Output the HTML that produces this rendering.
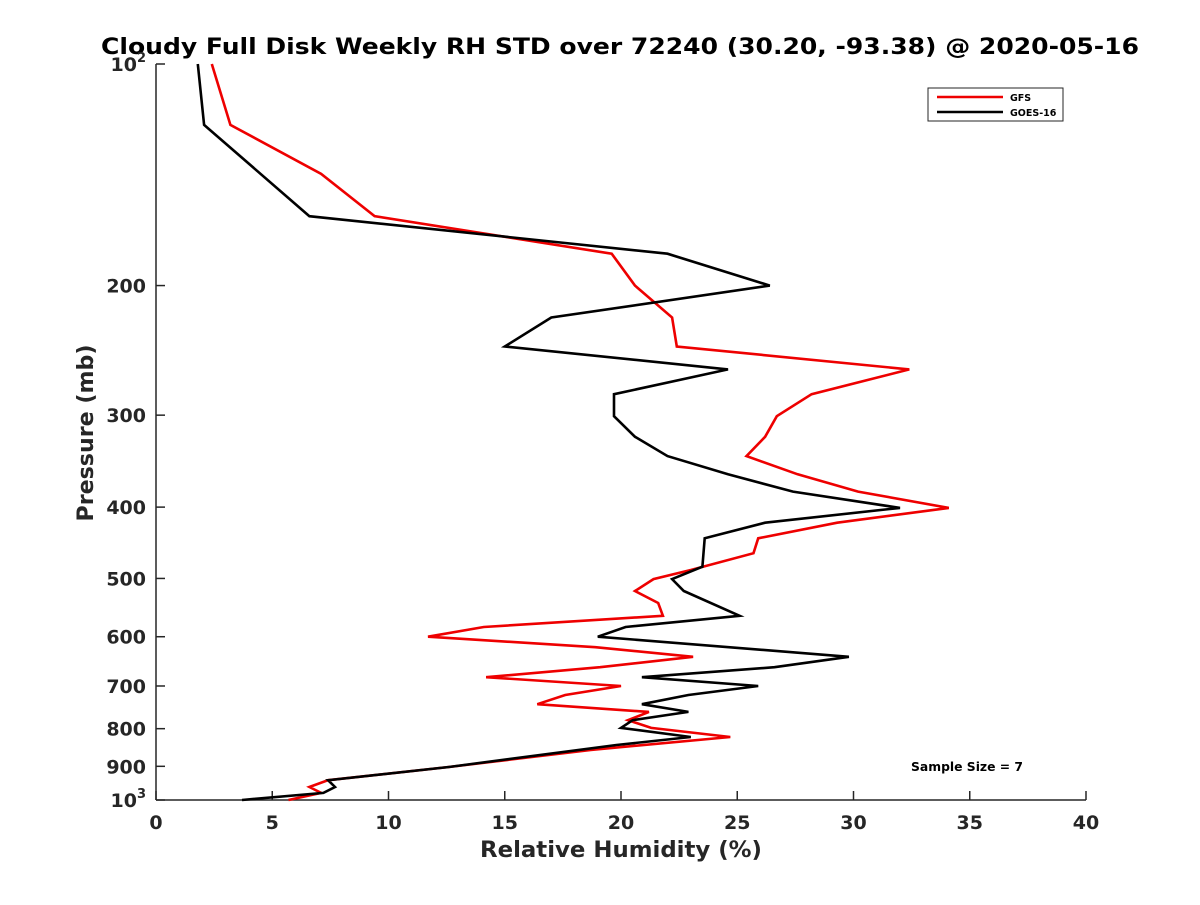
<!DOCTYPE html>
<html><head><meta charset="utf-8"><style>
body{margin:0;background:#fff;}
svg text{font-family:"DejaVu Sans","Liberation Sans",sans-serif;font-weight:bold;fill:#262626;}
</style></head><body>
<svg id="chart" width="1200" height="900" xmlns="http://www.w3.org/2000/svg">
<rect width="1200" height="900" fill="#fff"/>
<text x="620" y="54" text-anchor="middle" font-size="22" textLength="1038" lengthAdjust="spacingAndGlyphs" style="fill:#000">Cloudy Full Disk Weekly RH STD over 72240 (30.20, -93.38) @ 2020-05-16</text>
<g id="axes"></g>
<g id="series"></g>
<text x="621" y="857" text-anchor="middle" font-size="22" textLength="282" lengthAdjust="spacingAndGlyphs">Relative Humidity (%)</text>
<text transform="translate(93,433) rotate(-90)" text-anchor="middle" font-size="22" textLength="177" lengthAdjust="spacingAndGlyphs">Pressure (mb)</text>
<g>
<rect x="928" y="88" width="135" height="33" fill="#fff" stroke="#262626" stroke-width="1"/>
<line x1="937" y1="97" x2="1003" y2="97" stroke="#e00" stroke-width="2.5"/>
<text x="1010" y="101" font-size="9.5" style="fill:#000">GFS</text>
<line x1="937" y1="112" x2="1003" y2="112" stroke="#000" stroke-width="2.5"/>
<text x="1010" y="116" font-size="9.5" style="fill:#000">GOES-16</text>
</g>
<text x="967" y="771" text-anchor="middle" font-size="12" textLength="112" lengthAdjust="spacingAndGlyphs" style="fill:#000">Sample Size = 7</text>
</svg>
<script>
const gfsP = [100,121,141,161,181,200,221,242,260,281,301,321,341,361,381,401,420,441,462,487,501,520,540,562,582,600,620,639,660,681,700,720,741,759,779,798,821,855,902,940,960,978,1000];
const gfsV = [2.4,3.2,7.1,9.4,19.6,20.6,22.2,22.4,32.4,28.2,26.7,26.2,25.4,27.6,30.2,34.1,29.3,25.9,25.7,23.0,21.4,20.6,21.6,21.8,14.1,11.7,18.9,23.1,19.1,14.2,20.0,17.6,16.4,21.2,20.3,21.3,24.7,18.7,12.6,7.4,6.6,7.1,5.7];
const goesP = [100,121,161,181,200,221,242,260,281,301,321,341,361,381,401,420,441,482,501,520,562,582,600,639,660,681,700,720,741,759,779,798,821,842,855,902,940,960,978,1000];
const goesV = [1.8,2.07,6.6,22.0,26.4,17.0,15.0,24.6,19.7,19.7,20.6,22.0,24.6,27.4,32.0,26.2,23.6,23.5,22.2,22.7,25.1,20.2,19.0,29.8,26.6,20.9,25.9,22.9,20.9,22.9,20.5,20.0,23.0,19.8,18.2,12.6,7.4,7.7,7.2,3.7];
const xTicks = [0,5,10,15,20,25,30,35,40];
const yTicks = [100,200,300,400,500,600,700,800,900,1000];
const yTickLabels = ["10|2","200","300","400","500","600","700","800","900","10|3"];

const X0=156,X1=1086,Y0=64,Y1=800;
const xs=v=>X0+(v-0)/(40-0)*(X1-X0);
const ys=p=>Y0+(Math.log10(p)-2)*(Y1-Y0);
const NS="http://www.w3.org/2000/svg";
function mk(tag,attrs,parent){const e=document.createElementNS(NS,tag);for(const k in attrs)e.setAttribute(k,attrs[k]);parent.appendChild(e);return e;}
const ax=document.getElementById('axes');
let l=mk('line',{x1:X0,y1:Y0,x2:X0,y2:Y1,stroke:'#262626','stroke-width':1.5},ax);


l=mk('line',{x1:X0,y1:Y1,x2:X1,y2:Y1,stroke:'#262626','stroke-width':1.5},ax);


xTicks.forEach(v=>{
  const x=xs(v);
  mk('line',{x1:x,y1:Y1,x2:x,y2:Y1-9,stroke:'#262626','stroke-width':1.5},ax);
  const t=mk('text',{x:x,y:829,'text-anchor':'middle','font-size':19},ax);
  t.textContent=v;
  
  
});
yTicks.forEach((p,i)=>{
  const y=ys(p);
  mk('line',{x1:X0,y1:y,x2:X0+9,y2:y,stroke:'#262626','stroke-width':1.5},ax);
  const lab=yTickLabels[i];
  if(lab.includes('|')){
    const [b,e]=lab.split('|');
    const t=mk('text',{x:X0-10,y:y+7,'text-anchor':'end','font-size':19},ax);
    
    
    const t1=mk('tspan',{},t);t1.textContent=b;
    const t2=mk('tspan',{dy:-9,'font-size':13},t);t2.textContent=e;
  } else {
    const t=mk('text',{x:X0-10,y:y+7,'text-anchor':'end','font-size':19},ax);
    t.textContent=lab;
    
    
  }
});
const sg=document.getElementById('series');
function draw(P,V,color,name){
  const pts=P.map((p,i)=>xs(V[i]).toFixed(1)+','+ys(p).toFixed(1)).join(' ');
  const e=mk('polyline',{points:pts,fill:'none',stroke:color,'stroke-width':2.6,'stroke-linejoin':'miter'},sg);
  
  
}
draw(gfsP,gfsV,'#e00','gfs-line');
draw(goesP,goesV,'#000','goes16-line');
</script>
</body></html>
